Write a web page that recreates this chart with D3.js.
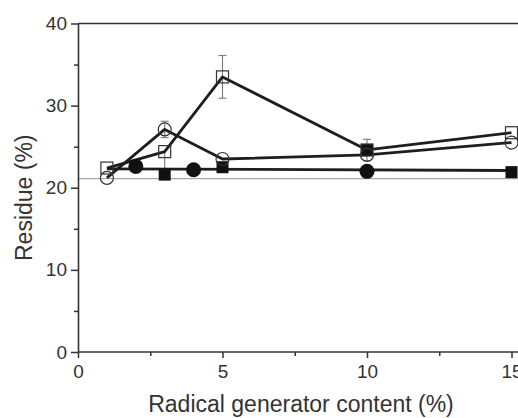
<!DOCTYPE html>
<html>
<head>
<meta charset="utf-8">
<script src="https://cdn.jsdelivr.net/npm/d3@7"></script>
<style>
  html, body { margin: 0; padding: 0; background: #fff; }
  svg { display: block; font-family: "Liberation Sans", Arial, sans-serif; }
</style>
</head>
<body>
<svg id="chart" width="518" height="418"></svg>
<script>
// Residue vs. radical generator content, four sample series
const xTicks = [0, 5, 10, 15];
const xMinorTicks = [2.5, 7.5, 12.5];
const yTicks = [0, 10, 20, 30, 40];
const yMinorTicks = [5, 15, 25, 35];

// open squares
const openSquareX = [1, 3, 5, 10, 15];
const openSquareY = [22.4, 24.4, 33.5, 24.6, 26.7];
const openSquareErrLo = [0, 2.9, 2.6, 1.3, 0];
const openSquareErrHi = [0, 0, 2.6, 1.3, 0];

// open circles
const openCircleX = [1, 3, 5, 10, 15];
const openCircleY = [21.2, 27.1, 23.5, 24.0, 25.5];
const openCircleErrLo = [0, 1.0, 0, 0, 0];
const openCircleErrHi = [0, 1.0, 0, 0, 0];

// filled circles
const filledCircleX = [2, 4, 10];
const filledCircleY = [22.6, 22.2, 22.0];

// filled squares
const filledSquareX = [3, 5, 10, 15];
const filledSquareY = [21.6, 22.5, 24.6, 21.9];

// level line through the filled series
const levelX = [1, 15];
const levelY = [22.3, 22.1];

// reference level
const refLevel = 21.1;

const svg = d3.select("#chart");
const W = 518;
const x = d3.scaleLinear().domain([0, 15]).range([78, 511.5]);
const y = d3.scaleLinear().domain([0, 40]).range([352, 23.5]);

const axisColor = "#333";
const lineColor = "#1e1e1e";

// reference line
svg.append("line")
  .attr("x1", x(0)).attr("x2", W)
  .attr("y1", y(refLevel)).attr("y2", y(refLevel))
  .attr("stroke", "#a8a8a8").attr("stroke-width", 1.3);

// top frame
svg.append("line")
  .attr("x1", x(0)).attr("x2", W)
  .attr("y1", y(40)).attr("y2", y(40))
  .attr("stroke", axisColor).attr("stroke-width", 1.6);

// y axis
svg.append("g").attr("transform", `translate(${x(0)},0)`)
  .call(d3.axisLeft(y).tickValues(yTicks).tickSize(7).tickPadding(4).tickSizeOuter(0));
svg.append("g").attr("transform", `translate(${x(0)},0)`)
  .call(d3.axisLeft(y).tickValues(yMinorTicks).tickSize(4).tickFormat("").tickSizeOuter(0))
  .select(".domain").remove();

// x axis
const xAxis = svg.append("g").attr("transform", `translate(0,${y(0)})`)
  .call(d3.axisBottom(x).tickValues(xTicks).tickSize(6).tickPadding(7).tickSizeOuter(0));
svg.append("g").attr("transform", `translate(0,${y(0)})`)
  .call(d3.axisBottom(x).tickValues(xMinorTicks).tickSize(4).tickFormat("").tickSizeOuter(0))
  .select(".domain").remove();

// extend x axis line to right edge
xAxis.select(".domain").attr("d", `M${x(0)},0H${W}`);

svg.selectAll(".tick line").attr("stroke", axisColor).attr("stroke-width", 1.5);
svg.selectAll(".domain").attr("stroke", axisColor).attr("stroke-width", 1.6);
svg.selectAll(".tick text").attr("fill", "#333").style("font-size", "19px");

// axis titles
svg.append("text")
  .attr("x", 301).attr("y", 412)
  .attr("text-anchor", "middle")
  .attr("fill", "#333")
  .style("font-size", "23px")
  .text("Radical generator content (%)");

svg.append("text")
  .attr("transform", `translate(32,${(y(0) + y(40)) / 2 + 10}) rotate(-90)`)
  .attr("text-anchor", "middle")
  .attr("fill", "#333")
  .style("font-size", "23px")
  .text("Residue (%)");

const toPts = (xs, ys) => xs.map((v, i) => ({ x: v, y: ys[i] }));
const line = d3.line().x(d => x(d.x)).y(d => y(d.y));

const openSq = openSquareX.map((v, i) => ({ x: v, y: openSquareY[i], lo: openSquareErrLo[i], hi: openSquareErrHi[i] }));
const openCi = openCircleX.map((v, i) => ({ x: v, y: openCircleY[i], lo: openCircleErrLo[i], hi: openCircleErrHi[i] }));
const filledCi = toPts(filledCircleX, filledCircleY);
const filledSq = toPts(filledSquareX, filledSquareY);
const level = toPts(levelX, levelY);

// error bars
function errorBars(data) {
  const g = svg.append("g").attr("stroke", "#7a7a7a").attr("stroke-width", 1.1);
  data.filter(d => d.lo > 0 || d.hi > 0).forEach(d => {
    const cx = x(d.x), top = y(d.y + d.hi), bot = y(d.y - d.lo);
    g.append("line").attr("x1", cx).attr("x2", cx).attr("y1", top).attr("y2", bot);
    if (d.hi > 0) g.append("line").attr("x1", cx - 4).attr("x2", cx + 4).attr("y1", top).attr("y2", top);
    if (d.lo > 0) g.append("line").attr("x1", cx - 4).attr("x2", cx + 4).attr("y1", bot).attr("y2", bot);
  });
}
errorBars(openSq);
errorBars(openCi);

// connecting lines
[level, openSq, openCi].forEach(data => {
  svg.append("path").datum(data)
    .attr("d", line)
    .attr("fill", "none")
    .attr("stroke", lineColor)
    .attr("stroke-width", 2.8)
    .attr("stroke-linejoin", "round");
});

// filled markers
svg.append("g").selectAll("rect").data(filledSq).join("rect")
  .attr("x", d => x(d.x) - 6).attr("y", d => y(d.y) - 6)
  .attr("width", 12).attr("height", 12)
  .attr("fill", "#111");

svg.append("g").selectAll("circle").data(filledCi).join("circle")
  .attr("cx", d => x(d.x)).attr("cy", d => y(d.y)).attr("r", 7.5)
  .attr("fill", "#111");

// open markers
svg.append("g").selectAll("rect").data(openSq).join("rect")
  .attr("x", d => x(d.x) - 6).attr("y", d => y(d.y) - 6)
  .attr("width", 12).attr("height", 12)
  .attr("fill", "none").attr("stroke", "#333").attr("stroke-width", 1.2);

svg.append("g").selectAll("circle").data(openCi).join("circle")
  .attr("cx", d => x(d.x)).attr("cy", d => y(d.y)).attr("r", 6.5)
  .attr("fill", "none").attr("stroke", "#333").attr("stroke-width", 1.2);
</script>
</body>
</html>
